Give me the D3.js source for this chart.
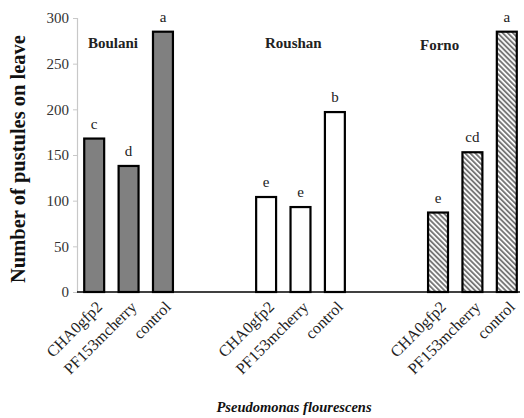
<!DOCTYPE html>
<html>
<head>
<meta charset="utf-8">
<script src="https://cdn.jsdelivr.net/npm/d3@7"></script>
<style>
  body { margin: 0; background: #fff; }
  svg { display: block; }
</style>
</head>
<body>
<div id="chart"></div>
<script>
// data
const cultivars = ["Boulani", "Roushan", "Forno"];
const strains = ["CHA0gfp2", "PF153mcherry", "control"];
const pustules = [
  [168, 138, 285],   // Boulani
  [104, 93, 197],    // Roushan
  [87, 153, 285]     // Forno
];
const letters = [
  ["c", "d", "a"],
  ["e", "e", "b"],
  ["e", "cd", "a"]
];
const yTicks = [0, 50, 100, 150, 200, 250, 300];

const width = 524, height = 418;
const margin = {top: 18, right: 0, bottom: 126, left: 77};

const svg = d3.select("#chart").append("svg")
  .attr("width", width)
  .attr("height", height);

// hatch pattern for the third group
const defs = svg.append("defs");
const pat = defs.append("pattern")
  .attr("id", "hatch")
  .attr("patternUnits", "userSpaceOnUse")
  .attr("width", 3.6).attr("height", 3.6)
  .attr("patternTransform", "rotate(-45)");
pat.append("rect").attr("width", 3.6).attr("height", 3.6).attr("fill", "#fff");
pat.append("rect").attr("width", 1.9).attr("height", 3.6).attr("fill", "#777");

// slots: 3 bars + 2 empty between groups
const slots = [];
cultivars.forEach((c, gi) => {
  strains.forEach((s, si) => {
    slots.push({key: gi + "-" + si, group: gi, strain: s, value: pustules[gi][si], letter: letters[gi][si]});
  });
  if (gi < cultivars.length - 1) {
    slots.push({key: "gap" + gi + "a", empty: true});
    slots.push({key: "gap" + gi + "b", empty: true});
  }
});

const x = d3.scaleBand()
  .domain(slots.map(d => d.key))
  .range([margin.left, width])
  .paddingInner(0.42)
  .paddingOuter(0.21);

const y = d3.scaleLinear()
  .domain([0, 300])
  .range([height - margin.bottom, margin.top]);

const fills = ["#808080", "#ffffff", "url(#hatch)"];

// y axis
const yAxis = svg.append("g")
  .attr("transform", `translate(${margin.left},0)`)
  .call(d3.axisLeft(y).tickValues(yTicks).tickSize(4).tickPadding(4));
yAxis.select(".domain").attr("stroke", "#c8c8c8").attr("stroke-width", 1.2);
yAxis.selectAll(".tick line").attr("stroke", "#c8c8c8");
yAxis.selectAll(".tick text")
  .attr("font-family", "Liberation Serif, serif")
  .attr("font-size", 15)
  .attr("fill", "#333");

const bars = slots.filter(d => !d.empty);

svg.append("g").selectAll("rect")
  .data(bars)
  .join("rect")
  .attr("x", d => x(d.key))
  .attr("y", d => y(d.value))
  .attr("width", x.bandwidth())
  .attr("height", d => y(0) - y(d.value))
  .attr("fill", d => fills[d.group])
  .attr("stroke", "#000")
  .attr("stroke-width", 2.2);

// x axis line
svg.append("line")
  .attr("x1", margin.left).attr("x2", width - 4)
  .attr("y1", y(0)).attr("y2", y(0))
  .attr("stroke", "#000").attr("stroke-width", 1.5);

// significance letters
svg.append("g").selectAll("text")
  .data(bars)
  .join("text")
  .attr("x", d => x(d.key) + x.bandwidth() / 2)
  .attr("y", d => y(d.value) - 10)
  .attr("text-anchor", "middle")
  .attr("font-family", "Liberation Serif, serif")
  .attr("font-size", 15)
  .attr("fill", "#222")
  .text(d => d.letter);

// group names
const groupLabelPos = [[88, 48], [265, 48], [420, 50]];
svg.append("g").selectAll("text")
  .data(cultivars)
  .join("text")
  .attr("x", (d, i) => groupLabelPos[i][0])
  .attr("y", (d, i) => groupLabelPos[i][1])
  .attr("font-family", "Liberation Serif, serif")
  .attr("font-weight", "bold")
  .attr("font-size", 15)
  .attr("fill", "#222")
  .text(d => d);

// x tick labels
svg.append("g").selectAll("text")
  .data(bars)
  .join("text")
  .attr("transform", d => `translate(${x(d.key) + x.bandwidth() / 2 + 5},${y(0) + 12}) rotate(-45)`)
  .attr("text-anchor", "end")
  .attr("dy", "0.35em")
  .attr("font-family", "Liberation Serif, serif")
  .attr("font-size", 16)
  .attr("fill", "#222")
  .text(d => d.strain);

// axis titles
svg.append("text")
  .attr("transform", `translate(25,${(y(0) + y(300)) / 2 + 4}) rotate(-90)`)
  .attr("text-anchor", "middle")
  .attr("font-family", "Liberation Serif, serif")
  .attr("font-weight", "bold")
  .attr("font-size", 20.5)
  .attr("fill", "#111")
  .text("Number of pustules on leave");

svg.append("text")
  .attr("x", 294)
  .attr("y", 412)
  .attr("text-anchor", "middle")
  .attr("font-family", "Liberation Serif, serif")
  .attr("font-weight", "bold")
  .attr("font-style", "italic")
  .attr("font-size", 14.5)
  .attr("fill", "#111")
  .text("Pseudomonas flourescens");
</script>
</body>
</html>
